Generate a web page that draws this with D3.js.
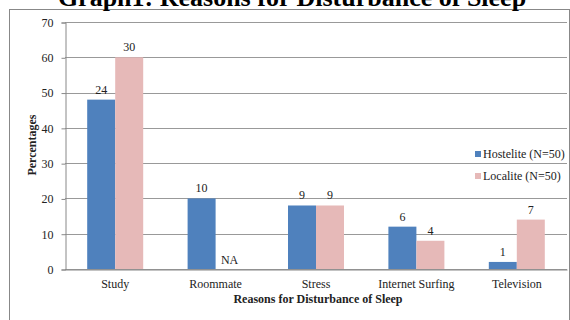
<!DOCTYPE html>
<html lang="en">
<head>
<meta charset="utf-8">
<title>Reasons for Disturbance of Sleep</title>
<script src="https://cdn.jsdelivr.net/npm/d3@7"></script>
<style>
  body { margin: 0; background: #fff; }
  text { font-family: "Liberation Serif", "Times New Roman", serif; fill: #222; }
</style>
</head>
<body>
<script>
// data
var categories = ["Study", "Roommate", "Stress", "Internet Surfing", "Television"];
var seriesNames = ["Hostelite (N=50)", "Localite (N=50)"];
var hostelitePct = [48, 20, 18, 12, 2];
var localitePct = [60, 0, 18, 8, 14];
var hosteliteLabels = ["24", "10", "9", "6", "1"];
var localiteLabels = ["30", "NA", "9", "4", "7"];
var yTicks = [0, 10, 20, 30, 40, 50, 60, 70];

var w = 570, h = 320;
var plotLeft = 65, plotRight = 567, plotTop = 22, plotBottom = 269;
var colors = ["#4f81bd", "#e6b9b8"];

var svg = d3.select("body").append("svg")
  .attr("width", w)
  .attr("height", h);

// outer frame
svg.append("rect")
  .attr("x", 9.5).attr("y", 9.5)
  .attr("width", 560).attr("height", 320)
  .attr("fill", "none")
  .attr("stroke", "#888");

// title (mostly cut off at top)
svg.append("text")
  .attr("x", 292).attr("y", 6)
  .attr("text-anchor", "middle")
  .attr("font-size", "26px")
  .attr("font-weight", "bold")
  .style("fill", "#000")
  .text("Graph1: Reasons for Disturbance of Sleep");

var x = d3.scaleBand().domain(categories).range([plotLeft, plotRight]);
var y = d3.scaleLinear().domain([0, 70]).range([plotBottom, plotTop]);

// gridlines
svg.selectAll("line.grid")
  .data(yTicks)
  .enter()
  .append("line")
  .attr("class", "grid")
  .attr("x1", plotLeft).attr("x2", plotRight)
  .attr("y1", function(d) { return Math.round(y(d)) + 0.5; })
  .attr("y2", function(d) { return Math.round(y(d)) + 0.5; })
  .attr("stroke", "#999");

var yAxis = svg.append("g")
  .attr("transform", "translate(" + (plotLeft + 0.5) + ",0.5)")
  .call(d3.axisLeft(y).tickValues(yTicks).tickSize(4).tickPadding(8));
yAxis.selectAll("text").attr("font-size", "12px");
yAxis.selectAll("line,path").attr("stroke", "#888");

var xAxis = svg.append("g")
  .attr("transform", "translate(0," + (plotBottom + 0.5) + ")")
  .call(d3.axisBottom(x).tickSize(0).tickPadding(10));
xAxis.selectAll("text").attr("font-size", "12px");
xAxis.select("path").attr("stroke", "#888");

var barW = 28;
var values = [hostelitePct, localitePct];
var labels = [hosteliteLabels, localiteLabels];

values.forEach(function(vals, s) {
  var bx = function(d, i) {
    return x(categories[i]) + x.bandwidth() / 2 - barW + s * barW;
  };
  svg.selectAll("rect.s" + s)
    .data(vals)
    .enter()
    .append("rect")
    .attr("class", "s" + s)
    .attr("x", bx)
    .attr("y", function(d) { return y(d); })
    .attr("width", barW)
    .attr("height", function(d) { return plotBottom - y(d); })
    .attr("fill", colors[s]);

  svg.selectAll("text.l" + s)
    .data(vals)
    .enter()
    .append("text")
    .attr("class", "l" + s)
    .attr("x", function(d, i) { return bx(d, i) + barW / 2; })
    .attr("y", function(d, i) { return labels[s][i] == "NA" ? y(d) - 5 : y(d) - 6; })
    .attr("text-anchor", "middle")
    .attr("font-size", "12px")
    .text(function(d, i) { return labels[s][i]; });
});

// axis titles
svg.append("text")
  .attr("transform", "translate(36," + 145 + ") rotate(-90)")
  .attr("text-anchor", "middle")
  .attr("font-size", "12px")
  .attr("font-weight", "bold")
  .text("Percentages");

svg.append("text")
  .attr("x", 318).attr("y", 303)
  .attr("text-anchor", "middle")
  .attr("font-size", "12px")
  .attr("font-weight", "bold")
  .text("Reasons for Disturbance  of  Sleep");

// legend
var legend = svg.selectAll("g.legend")
  .data(seriesNames)
  .enter()
  .append("g")
  .attr("class", "legend")
  .attr("transform", function(d, i) { return "translate(475," + (155 + i * 22) + ")"; });
legend.append("rect")
  .attr("x", 0).attr("y", -4)
  .attr("width", 6).attr("height", 6)
  .attr("fill", function(d, i) { return colors[i]; });
legend.append("text")
  .attr("x", 8).attr("y", 3)
  .attr("font-size", "12px")
  .text(function(d) { return d; });
</script>
</body>
</html>
